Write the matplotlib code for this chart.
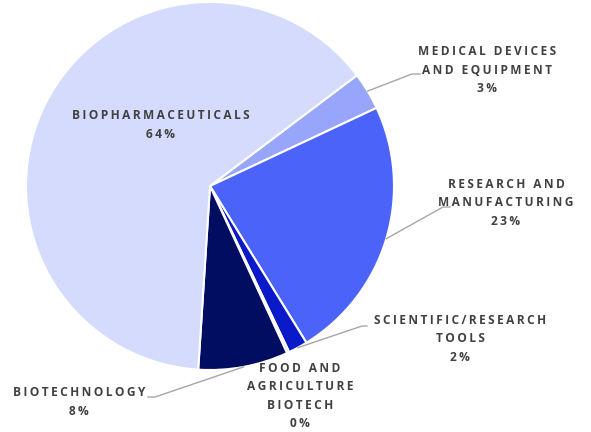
import numpy as np
import matplotlib.pyplot as plt

# slices, clockwise from the top-right
sectors = ["MEDICAL DEVICES\nAND EQUIPMENT", "RESEARCH AND\nMANUFACTURING",
           "SCIENTIFIC/RESEARCH\nTOOLS", "FOOD AND\nAGRICULTURE\nBIOTECH",
           "BIOTECHNOLOGY", "BIOPHARMACEUTICALS"]
shares = [3.3, 23.2, 1.7, 0.2, 7.9, 63.7]
colors = ["#97A6FA", "#4C63F9", "#0A1AC8", "#06108F", "#000D61", "#D5DBFC"]

W, H = 591, 432
fig = plt.figure(figsize=(W / 100, H / 100), dpi=100)
ax = fig.add_axes([0, 0, 1, 1])

cx, cy, r = 210, H - 186, 184
wedges, _ = ax.pie(shares, colors=colors, startangle=37, counterclock=False,
                   center=(cx, cy), radius=r, frame=True,
                   wedgeprops=dict(edgecolor="white", linewidth=1.5))
ax.set_xlim(0, W)
ax.set_ylim(0, H)
ax.axis("off")


def spaced(s):
    return "\n".join("\u2009".join(line) for line in s.split("\n"))


# label centre (pixels from top), leader elbow and tail (None = no leader)
label_pos = [(487, 70), (506, 203), (460, 339), (300, 396), (79, 402), (161, 125)]
elbows = [((412, 74), (420, 74)), ((443, 207), (450, 207)), ((362, 326), (367, 326)),
          None, ((155, 397), (148, 397)), None]

for w, name, val, (lx, ly), el in zip(wedges, sectors, shares, label_pos, elbows):
    txt = spaced(name) + "\n" + spaced(f"{round(val)}%")
    ax.text(lx, H - ly, txt, ha="center", va="center", fontsize=8.6,
            family=["Open Sans", "DejaVu Sans"], fontweight="bold",
            color="#404040", linespacing=1.52)
    if el is not None:
        mid = np.deg2rad((w.theta1 + w.theta2) / 2)
        sx, sy = cx + r * np.cos(mid), cy + r * np.sin(mid)
        (ex, ey), (tx, ty) = el
        ax.plot([sx, ex, tx], [sy, H - ey, H - ty], color="#A6A6A6", lw=1)

fig.savefig("out.png", dpi=100, facecolor="white")
